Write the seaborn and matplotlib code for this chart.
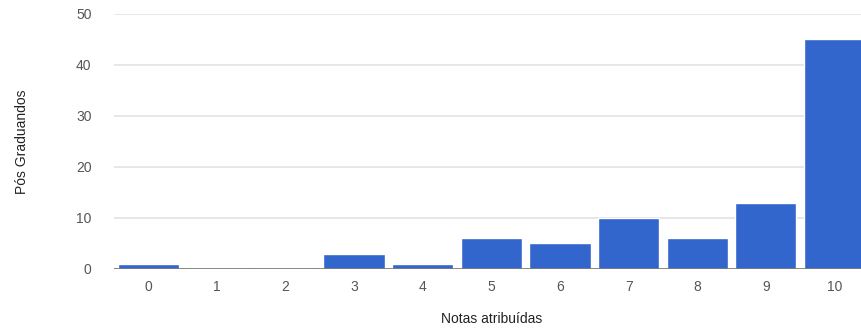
import matplotlib
matplotlib.use("Agg")
import matplotlib.pyplot as plt
import seaborn as sns
import pandas as pd

notas = ["0", "1", "2", "3", "4", "5", "6", "7", "8", "9", "10"]
pos_graduandos = [1, 0, 0, 3, 1, 6, 5, 10, 6, 13, 45]
y_ticks = [0, 10, 20, 30, 40, 50]

sns.set_theme(style="white")
plt.rcParams["font.family"] = ["Liberation Sans", "DejaVu Sans"]

df = pd.DataFrame({"nota": notas, "n": pos_graduandos})

fig = plt.figure(figsize=(8.62, 3.32), dpi=100)
ax = fig.add_axes([0.132, 0.190, 0.876, 0.768])

sns.barplot(data=df, x="nota", y="n", order=notas, color="#3366cc",
            saturation=1, width=0.89, ax=ax, zorder=3)

ax.set_ylim(0, 50)
ax.set_yticks(y_ticks)
ax.yaxis.grid(True, color="#e3e3e3", linewidth=1.2, zorder=0)
ax.axhline(0, color="#777777", linewidth=1.2, zorder=4)
for s in ax.spines.values():
    s.set_visible(False)

ax.tick_params(axis="both", length=0, labelsize=10, labelcolor="#555555")
ax.tick_params(axis="y", pad=16)
ax.tick_params(axis="x", pad=8)

ax.set_xlabel("Notas atribuídas", fontsize=10, color="#222222", labelpad=13)
ax.set_ylabel("Pós Graduandos", fontsize=10, color="#222222", labelpad=34)

fig.savefig("out.png", dpi=100)
